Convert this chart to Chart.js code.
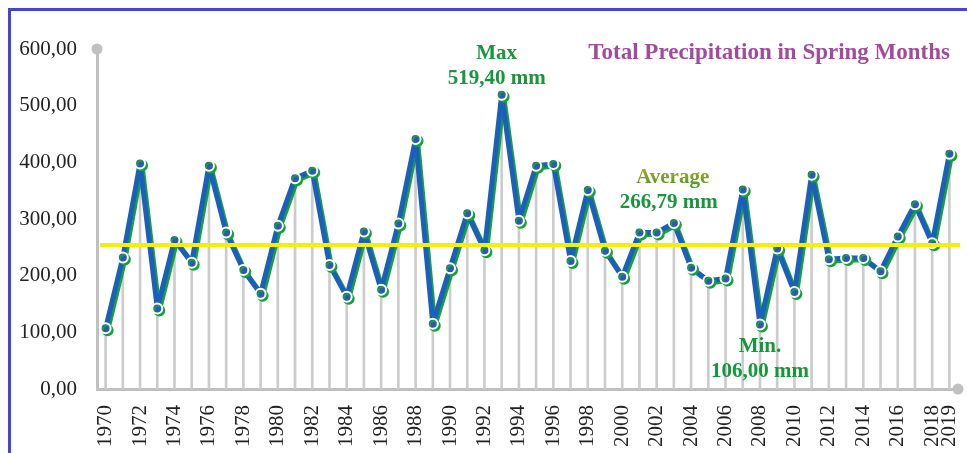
<!DOCTYPE html>
<html>
<head>
<meta charset="utf-8">
<script src="https://cdn.jsdelivr.net/npm/chart.js@4"></script>
<style>
    html, body { margin: 0; padding: 0; background: #fff; }
    #wrap { position: relative; width: 967px; height: 453px; }
    #frame {
        position: absolute; left: 8px; top: 8px; right: -10px; bottom: -10px;
        border-top: 3px solid #4444dd; border-left: 3px solid #4444dd;
        pointer-events: none;
    }
</style>
</head>
<body>
<div id="wrap">
    <canvas id="springRain" width="967" height="453"></canvas>
    <div id="frame"></div>
</div>
<script>
const years = [];
for (let y = 1970; y <= 2019; y++) years.push(String(y));

const precipitation = [
    107, 232, 398, 142, 263, 223, 394, 276, 210, 168,
    288, 372, 385, 219, 163, 278, 175, 292, 441, 115,
    213, 310, 245, 519.4, 297, 394, 397, 226, 351, 244,
    198, 276, 276, 293, 214, 191, 195, 352, 114, 248,
    171, 378, 229, 231, 231, 208, 269, 326, 257, 415
];

const yTicks = [0, 100, 200, 300, 400, 500, 600];
const averageLine = 254;
const chartTitle = 'Total Precipitation in Spring Months';
const maxText = ['Max', '519,40 mm'];
const minText = ['Min.', '106,00 mm'];
const avgText = ['Average', '266,79 mm'];
const minYear = '2008';

const serif = '"Liberation Serif", "Times New Roman", serif';
const green = '#17963a';

const fmt = (v) => v.toFixed(2).replace('.', ',');

// green offset under the blue line and its points
const shadowLine = {
    id: 'shadowLine',
    beforeDatasetDraw(chart, args) {
        if (args.index !== 1) return;
        const ctx = chart.ctx;
        ctx.save();
        ctx.shadowColor = '#18a03a';
        ctx.shadowOffsetX = 2;
        ctx.shadowOffsetY = 2;
        ctx.shadowBlur = 0;
    },
    afterDatasetDraw(chart, args) {
        if (args.index !== 1) return;
        chart.ctx.restore();
    }
};

const extras = {
    id: 'extras',
    afterDraw(chart) {
        const ctx = chart.ctx;
        const area = chart.chartArea;
        const x = chart.scales.x;
        const y = chart.scales.y;

        // axis end caps
        ctx.save();
        ctx.fillStyle = '#c0c0c0';
        ctx.beginPath();
        ctx.arc(area.left, area.top, 5.5, 0, Math.PI * 2);
        ctx.fill();
        ctx.beginPath();
        ctx.arc(area.right, area.bottom, 5.5, 0, Math.PI * 2);
        ctx.fill();

        // average line
        const ya = y.getPixelForValue(averageLine);
        ctx.strokeStyle = '#f2f200';
        ctx.lineWidth = 4;
        ctx.beginPath();
        ctx.moveTo(area.left + 3, ya);
        ctx.lineTo(area.right + 2, ya);
        ctx.stroke();

        ctx.textAlign = 'center';
        ctx.textBaseline = 'middle';
        ctx.font = 'bold 21px ' + serif;

        // max label
        const iMax = precipitation.indexOf(Math.max(...precipitation));
        const xMax = x.getPixelForValue(iMax) - 5;
        const yMax = y.getPixelForValue(precipitation[iMax]);
        ctx.fillStyle = green;
        ctx.fillText(maxText[0], xMax, yMax - 41);
        ctx.fillText(maxText[1], xMax, yMax - 16);

        // min label
        const iMin = years.indexOf(minYear);
        const xMin = x.getPixelForValue(iMin);
        const yMin = y.getPixelForValue(precipitation[iMin]);
        ctx.fillText(minText[0], xMin, yMin + 22);
        ctx.fillText(minText[1], xMin, yMin + 47);

        // average label
        const xAvg = x.getPixelForValue(32.7);
        const grad = ctx.createLinearGradient(0, ya - 77, 0, ya - 58);
        grad.addColorStop(0, '#b8a818');
        grad.addColorStop(1, '#3a9a30');
        ctx.fillStyle = grad;
        ctx.fillText(avgText[0], xAvg + 4, ya - 67);
        ctx.fillStyle = green;
        ctx.fillText(avgText[1], xAvg, ya - 42);

        // title
        ctx.font = 'bold 23px ' + serif;
        ctx.fillStyle = '#a24b9e';
        ctx.textAlign = 'right';
        ctx.fillText(chartTitle, 950, 53);
        ctx.restore();
    }
};

new Chart(document.getElementById('springRain'), {
    data: {
        labels: years,
        datasets: [{
            type: 'bar',
            data: precipitation,
            backgroundColor: '#cccccc',
            barThickness: 2,
            order: 2
        }, {
            type: 'line',
            data: precipitation,
            borderColor: '#1a5fbe',
            borderWidth: 5,
            borderJoinStyle: 'round',
            tension: 0,
            pointRadius: 5,
            pointBackgroundColor: '#2c58b8',
            pointBorderColor: '#ffffff',
            pointBorderWidth: 2,
            order: 1
        }]
    },
    options: {
        responsive: false,
        animation: false,
        layout: { padding: { top: 49, right: 9, left: 0, bottom: 0 } },
        plugins: {
            legend: { display: false },
            tooltip: { enabled: false }
        },
        scales: {
            x: {
                offset: true,
                grid: { display: false },
                border: { color: '#c0c0c0', width: 3 },
                ticks: {
                    autoSkip: false,
                    minRotation: 90,
                    maxRotation: 90,
                    padding: 8,
                    color: '#222',
                    font: { family: serif, size: 21 },
                    callback: (v, i) => (i % 2 === 0 || i === years.length - 1) ? years[i] : ''
                },
                afterFit: (s) => { s.height = 64; s.paddingLeft = 0; s.paddingRight = 0; }
            },
            y: {
                min: 0,
                max: 600,
                grid: { display: false },
                border: { color: '#c0c0c0', width: 3 },
                afterBuildTicks: (s) => { s.ticks = yTicks.map(v => ({ value: v })); },
                ticks: {
                    padding: 12,
                    color: '#222',
                    font: { family: serif, size: 21 },
                    callback: (v) => fmt(v)
                },
                afterFit: (s) => { s.width = 97; s.paddingTop = 0; s.paddingBottom = 0; }
            }
        }
    },
    plugins: [shadowLine, extras]
});
</script>
</body>
</html>
